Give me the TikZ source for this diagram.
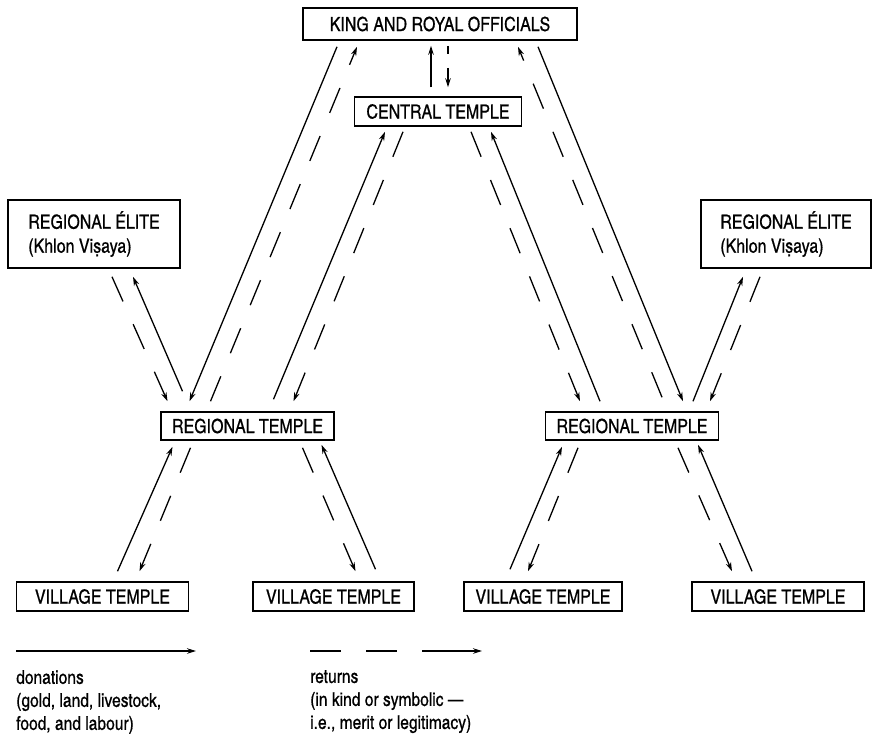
\documentclass[tikz,border=0pt]{standalone}
\usepackage{fontspec}
\setmainfont{TeX Gyre Heros Cn}[RawFeature={embolden=0.6}]
\usetikzlibrary{arrows.meta,calc}
\tikzset{box/.style={draw,line width=1.5pt,inner sep=0pt,minimum height=29pt,align=left,font=\fontsize{19.5}{24}\selectfont},don/.style={-{Stealth[length=9pt,width=5.5pt]},line width=1.3pt},ret/.style={don,dash pattern=on 27pt off 25pt},legend/.style={anchor=north west,inner sep=0pt,align=left,font=\fontsize{19}{23}\selectfont}}

\begin{document}
\begin{tikzpicture}[x=1pt,y=-1pt]
      \useasboundingbox (0,0) rectangle (872,740);
      \node[box,minimum width=274pt,minimum height=32pt](king) at (440,24){KING AND ROYAL OFFICIALS};
      \node[box,minimum width=167pt](central) at (438,111.5){CENTRAL TEMPLE};
      \node[box,minimum width=172pt,minimum height=68pt](eliteL) at (94,234){REGIONAL ÉLITE\\(Khlon Viṣaya)};
      \node[box,minimum width=170pt,minimum height=68pt](eliteR) at (786,234){REGIONAL ÉLITE\\(Khlon Viṣaya)};
      \node[box,minimum width=173pt,minimum height=28pt](regL) at (247.5,426){REGIONAL TEMPLE};
      \node[box,minimum width=173pt,minimum height=28pt](regR) at (632,426){REGIONAL TEMPLE};
      \node[box,minimum width=172pt](v1) at (102.5,596.5){VILLAGE TEMPLE};
      \node[box,minimum width=161pt](v2) at (333.5,596.5){VILLAGE TEMPLE};
      \node[box,minimum width=158pt](v3) at (543,596.5){VILLAGE TEMPLE};
      \node[box,minimum width=172pt](v4) at (778,596.5){VILLAGE TEMPLE};
      % king and central temple
      \draw[don]($(central.north)+(-7,-9)$)--($(king.south)+(-9,5)$);
      \draw[don,dash pattern=on 8pt off 14pt on 40pt]($(king.south)+(8,5)$)--($(central.north)+(10,-9)$);
      % left side
      \draw[don]($(king.south)+(-103,6)$)--($(regL.north)+(-58,-10)$);
      \draw[ret]($(regL.north)+(-37,-10)$)--($(king.south)+(-83,6)$);
      \draw[don]($(regL.north)+(26,-12)$)--($(central.south)+(-53,5)$);
      \draw[ret]($(central.south)+(-35,5)$)--($(regL.north)+(46,-10)$);
      \draw[ret]($(eliteL.south)+(18,8)$)--($(regL.north)+(-80,-10)$);
      \draw[don]($(regL.north)+(-65,-20)$)--($(eliteL.south)+(39,8)$);
      % right side
      \draw[ret]($(central.south)+(33,5)$)--($(regR.north)+(-52,-10)$);
      \draw[don]($(regR.north)+(-32,-10)$)--($(central.south)+(53,5)$);
      \draw[ret]($(regR.north)+(30,-14)$)--($(king.south)+(78,6)$);
      \draw[don]($(king.south)+(98,6)$)--($(regR.north)+(51,-10)$);
      \draw[don]($(regR.north)+(61,-10)$)--($(eliteR.south)+(-43,8)$);
      \draw[ret]($(eliteR.south)+(-26,8)$)--($(regR.north)+(78,-10)$);
      % village temples
      \draw[don]($(v1.north)+(15,-10)$)--($(regL.south)+(-75,6)$);
      \draw[ret]($(regL.south)+(-57,7)$)--($(v1.north)+(37,-10)$);
      \draw[ret]($(regL.south)+(55,7)$)--($(v2.north)+(22,-10)$);
      \draw[don]($(v2.north)+(42,-12)$)--($(regL.south)+(74,4)$);
      \draw[don]($(v3.north)+(-33,-12)$)--($(regR.south)+(-70,6)$);
      \draw[ret]($(regR.south)+(-54,7)$)--($(v3.north)+(-15,-10)$);
      \draw[ret]($(regR.south)+(46,7)$)--($(v4.north)+(-46,-10)$);
      \draw[don]($(v4.north)+(-26,-10)$)--($(regR.south)+(66,4)$);
      % key
      \coordinate(donA) at (16,651);\coordinate(donB) at (196,651);
      \coordinate(retA) at (310,651);\coordinate(retB) at (482,651);
      \draw[don](donA)--(donB);
      \draw[don,dash pattern=on 31pt off 25pt on 31pt off 25pt on 70pt](retA)--(retB);
      \node[legend](donText) at (16,670){donations\\(gold, land, livestock,\\food, and labour)};
      \node[legend](retText) at (310,670){returns\\(in kind or symbolic —\\i.e., merit or legitimacy)};
    \end{tikzpicture}
\end{document}
